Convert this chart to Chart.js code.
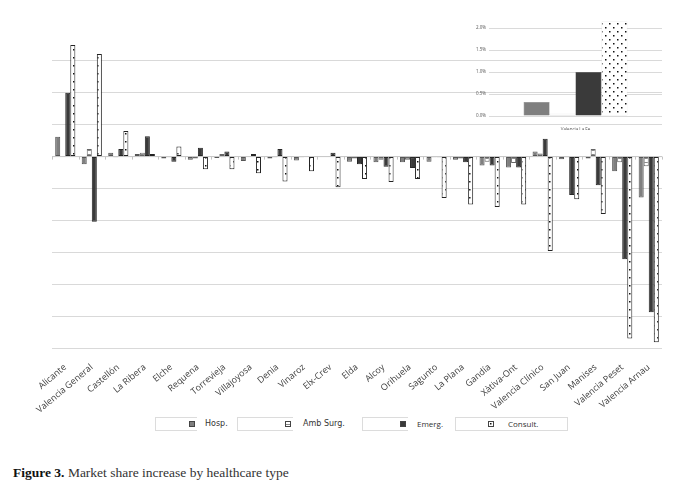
<!DOCTYPE html>
<html>
<head>
<meta charset="utf-8">
<script src="https://cdn.jsdelivr.net/npm/chart.js@4.4.0/dist/chart.umd.min.js"></script>
<style>
  html, body { margin: 0; padding: 0; background: #fff; }
  #wrap { position: relative; width: 700px; height: 492px; overflow: hidden; }
  #main { position: absolute; left: 0; top: 0; }
  #inset { position: absolute; left: 460px; top: 10px; }
  .leg { position: absolute; top: 417px; height: 14px; border: 1px solid #dcdcdc; border-right: none; box-sizing: border-box; }
  .sw { position: absolute; top: 421px; width: 6px; height: 6px; box-sizing: border-box; border: 1px solid #444; }
  .lt { position: absolute; top: 418px; font-size: 8px; line-height: 12px; color: #333; }
  #caption { position: absolute; left: 13px; top: 465px; font-family: "Liberation Serif", serif; font-size: 13.5px; color: #333; }
  #caption b { color: #111; }
</style>
</head>
<body>
<div id="wrap">
  <canvas id="main" width="700" height="415" style="width:700px;height:415px"></canvas>
  <canvas id="inset" width="210" height="120" style="width:210px;height:120px"></canvas>

  <div class="leg" style="left:155px;width:42px"></div>
  <div class="sw" style="left:189px;background:#7f7f7f"></div>
  <div class="lt" style="left:205px;font-family:'DejaVu Sans'">Hosp.</div>

  <div class="leg" style="left:237px;width:56px"></div>
  <div class="sw" id="swAmb" style="left:285px"></div>
  <div class="lt" style="left:303px;font-family:'DejaVu Sans'">Amb Surg.</div>

  <div class="leg" style="left:362px;width:46px"></div>
  <div class="sw" style="left:400px;background:#3a3a3a"></div>
  <div class="lt" style="left:417px;font-family:'Open Sans'">Emerg.</div>

  <div class="leg" style="left:455px;width:113px;border-right:1px solid #dcdcdc"></div>
  <div class="sw" id="swCon" style="left:488px"></div>
  <div class="lt" style="left:508px;font-family:'Open Sans'">Consult.</div>

  <div id="caption"><b>Figure 3.</b> Market share increase by healthcare type</div>
</div>
<script>
// market share change (percentage points)
const hospitals = ['Alicante', 'Valencia General', 'Castellón', 'La Ribera', 'Elche', 'Requena',
    'Torrevieja', 'Villajoyosa', 'Denia', 'Vinaroz', 'Elx-Crev', 'Elda', 'Alcoy', 'Orihuela',
    'Sagunto', 'La Plana', 'Gandía', 'Xàtiva-Ont', 'Valencia Clínico', 'San Juan', 'Manises',
    'Valencia Peset', 'Valencia Arnau'];
const hosp    = [0.31, -0.12, 0.06, 0.04, -0.03, -0.05, -0.02, -0.07, -0.03, -0.06, 0.01, -0.08, -0.09, -0.09, -0.08, -0.05, -0.14, -0.17, 0.08, -0.04, -0.03, -0.23, -0.64];
const ambSurg = [0.01, 0.12, -0.01, 0.06, -0.01, -0.03, 0.04, 0.01, -0.01, -0.01, 0.01, -0.03, -0.05, -0.05, -0.01, -0.03, -0.08, -0.10, 0.05, -0.01, 0.12, -0.09, -0.15];
const emerg   = [1.00, -1.02, 0.12, 0.32, -0.08, 0.14, 0.08, 0.04, 0.12, 0, 0.06, -0.12, -0.16, -0.18, -0.01, -0.09, -0.14, -0.17, 0.28, -0.60, -0.45, -1.61, -2.44];
const consult = [1.75, 1.61, 0.40, 0.04, 0.16, -0.20, -0.20, -0.26, -0.39, -0.23, -0.48, -0.35, -0.40, -0.35, -0.65, -0.75, -0.79, -0.75, -1.48, -0.67, -0.90, -2.85, -2.91];

// inset: Valencia La Fe
const insetLabel = ['Valencia La Fe'];
const laFe = [0.32, 0.05, 1.00, 2.15];
const insetTicks = [0, 0.5, 1.0, 1.5, 2.0];

const seriesNames = ['Hosp.', 'Amb Surg.', 'Emerg.', 'Consult.'];

// fill patterns
function linesPattern() {
    const c = document.createElement('canvas');
    c.width = 4; c.height = 4;
    const g = c.getContext('2d');
    g.fillStyle = '#fff';
    g.fillRect(0, 0, 4, 4);
    g.fillStyle = '#8a8a8a';
    g.fillRect(0, 2, 4, 1);
    return c;
}
function dotsPattern() {
    const c = document.createElement('canvas');
    c.width = 8; c.height = 8;
    const g = c.getContext('2d');
    g.fillStyle = '#fff';
    g.fillRect(0, 0, 8, 8);
    g.fillStyle = '#111';
    g.fillRect(1, 1, 1.5, 1.5);
    g.fillRect(5, 5, 1.5, 1.5);
    return c;
}

const mainCtx = document.getElementById('main').getContext('2d');
const ambFill = mainCtx.createPattern(linesPattern(), 'repeat');
const conFill = mainCtx.createPattern(dotsPattern(), 'repeat');

document.getElementById('swAmb').style.background = 'url(' + linesPattern().toDataURL() + ')';
document.getElementById('swCon').style.background = 'url(' + dotsPattern().toDataURL() + ')';

const styles = [
    { backgroundColor: '#7f7f7f', borderColor: '#555' },
    { backgroundColor: ambFill, borderColor: '#666' },
    { backgroundColor: '#3a3a3a', borderColor: '#262626' },
    { backgroundColor: conFill, borderColor: '#222' }
];

// zero line with small ticks at category boundaries
const zeroAxis = {
    id: 'zeroAxis',
    beforeDatasetsDraw(chart) {
        const x = chart.scales.x, y = chart.scales.y;
        const y0 = y.getPixelForValue(0);
        const ctx = chart.ctx;
        const step = (x.right - x.left) / chart.data.labels.length;
        ctx.save();
        ctx.strokeStyle = '#c4c4c4';
        ctx.lineWidth = 1;
        ctx.beginPath();
        ctx.moveTo(x.left, y0);
        ctx.lineTo(x.right, y0);
        for (let i = 0; i <= chart.data.labels.length; i++) {
            const px = Math.round(x.getPixelForValue(0) - step / 2 + i * step) + 0.5;
            ctx.moveTo(px, y0);
            ctx.lineTo(px, y0 + 3);
        }
        ctx.stroke();
        ctx.restore();
    }
};

new Chart(mainCtx, {
    type: 'bar',
    data: {
        labels: hospitals,
        datasets: [hosp, ambSurg, emerg, consult].map((d, i) => Object.assign({
            label: seriesNames[i],
            data: d,
            borderWidth: 1,
            borderSkipped: false,
            categoryPercentage: 0.76,
            barPercentage: 1.0,
            clip: false
        }, styles[i]))
    },
    options: {
        responsive: false,
        animation: false,
        devicePixelRatio: 1,
        layout: { padding: { top: 29, right: 38, left: 0, bottom: 0 } },
        plugins: { legend: { display: false }, tooltip: { enabled: false } },
        scales: {
            x: {
                grid: { display: false },
                border: { display: false },
                ticks: {
                    autoSkip: false,
                    minRotation: 40,
                    maxRotation: 40,
                    padding: 6,
                    color: '#404040',
                    font: { family: 'Open Sans', size: 9 }
                },
                afterFit: s => { s.height = 67; }
            },
            y: {
                min: -3.0,
                max: 2.0,
                ticks: { stepSize: 0.5, display: false },
                border: { display: false },
                grid: {
                    drawTicks: false,
                    color: c => (c.tick && (c.tick.value === 2 || c.tick.value === 0)) ? 'rgba(0,0,0,0)' : '#d9d9d9'
                },
                afterFit: s => { s.width = 52; }
            }
        }
    },
    plugins: [zeroAxis]
});

const insetCtx = document.getElementById('inset').getContext('2d');
const conFill2 = insetCtx.createPattern(dotsPattern(), 'repeat');
const ambFill2 = insetCtx.createPattern(linesPattern(), 'repeat');
const insetStyles = [
    { backgroundColor: '#7f7f7f', borderColor: '#6a6a6a' },
    { backgroundColor: ambFill2, borderColor: '#bbb' },
    { backgroundColor: '#3a3a3a', borderColor: '#2a2a2a' },
    { backgroundColor: conFill2, borderColor: '#ddd' }
];

new Chart(insetCtx, {
    type: 'bar',
    data: {
        labels: insetLabel,
        datasets: laFe.map((v, i) => Object.assign({
            label: seriesNames[i],
            data: [v],
            borderWidth: 0.5,
            borderSkipped: false,
            categoryPercentage: 0.6,
            barPercentage: 1.0,
            clip: false
        }, insetStyles[i]))
    },
    options: {
        responsive: false,
        animation: false,
        devicePixelRatio: 1,
        layout: { padding: { top: 18, right: 8, left: 0, bottom: 0 } },
        plugins: { legend: { display: false }, tooltip: { enabled: false } },
        scales: {
            x: {
                grid: { display: false },
                border: { display: false },
                ticks: { padding: 3, color: '#555', font: { family: 'Open Sans', size: 4.5 } },
                afterFit: s => { s.height = 14; }
            },
            y: {
                min: 0,
                max: 2.0,
                afterBuildTicks: s => { s.ticks = insetTicks.map(v => ({ value: v })); },
                ticks: {
                    padding: 3,
                    color: '#555',
                    font: { family: 'Open Sans', size: 4.5 },
                    callback: v => v.toFixed(1) + '%'
                },
                border: { display: false },
                grid: { drawTicks: false, color: '#dadada' },
                afterFit: s => { s.width = 29; }
            }
        }
    }
});
</script>
</body>
</html>
